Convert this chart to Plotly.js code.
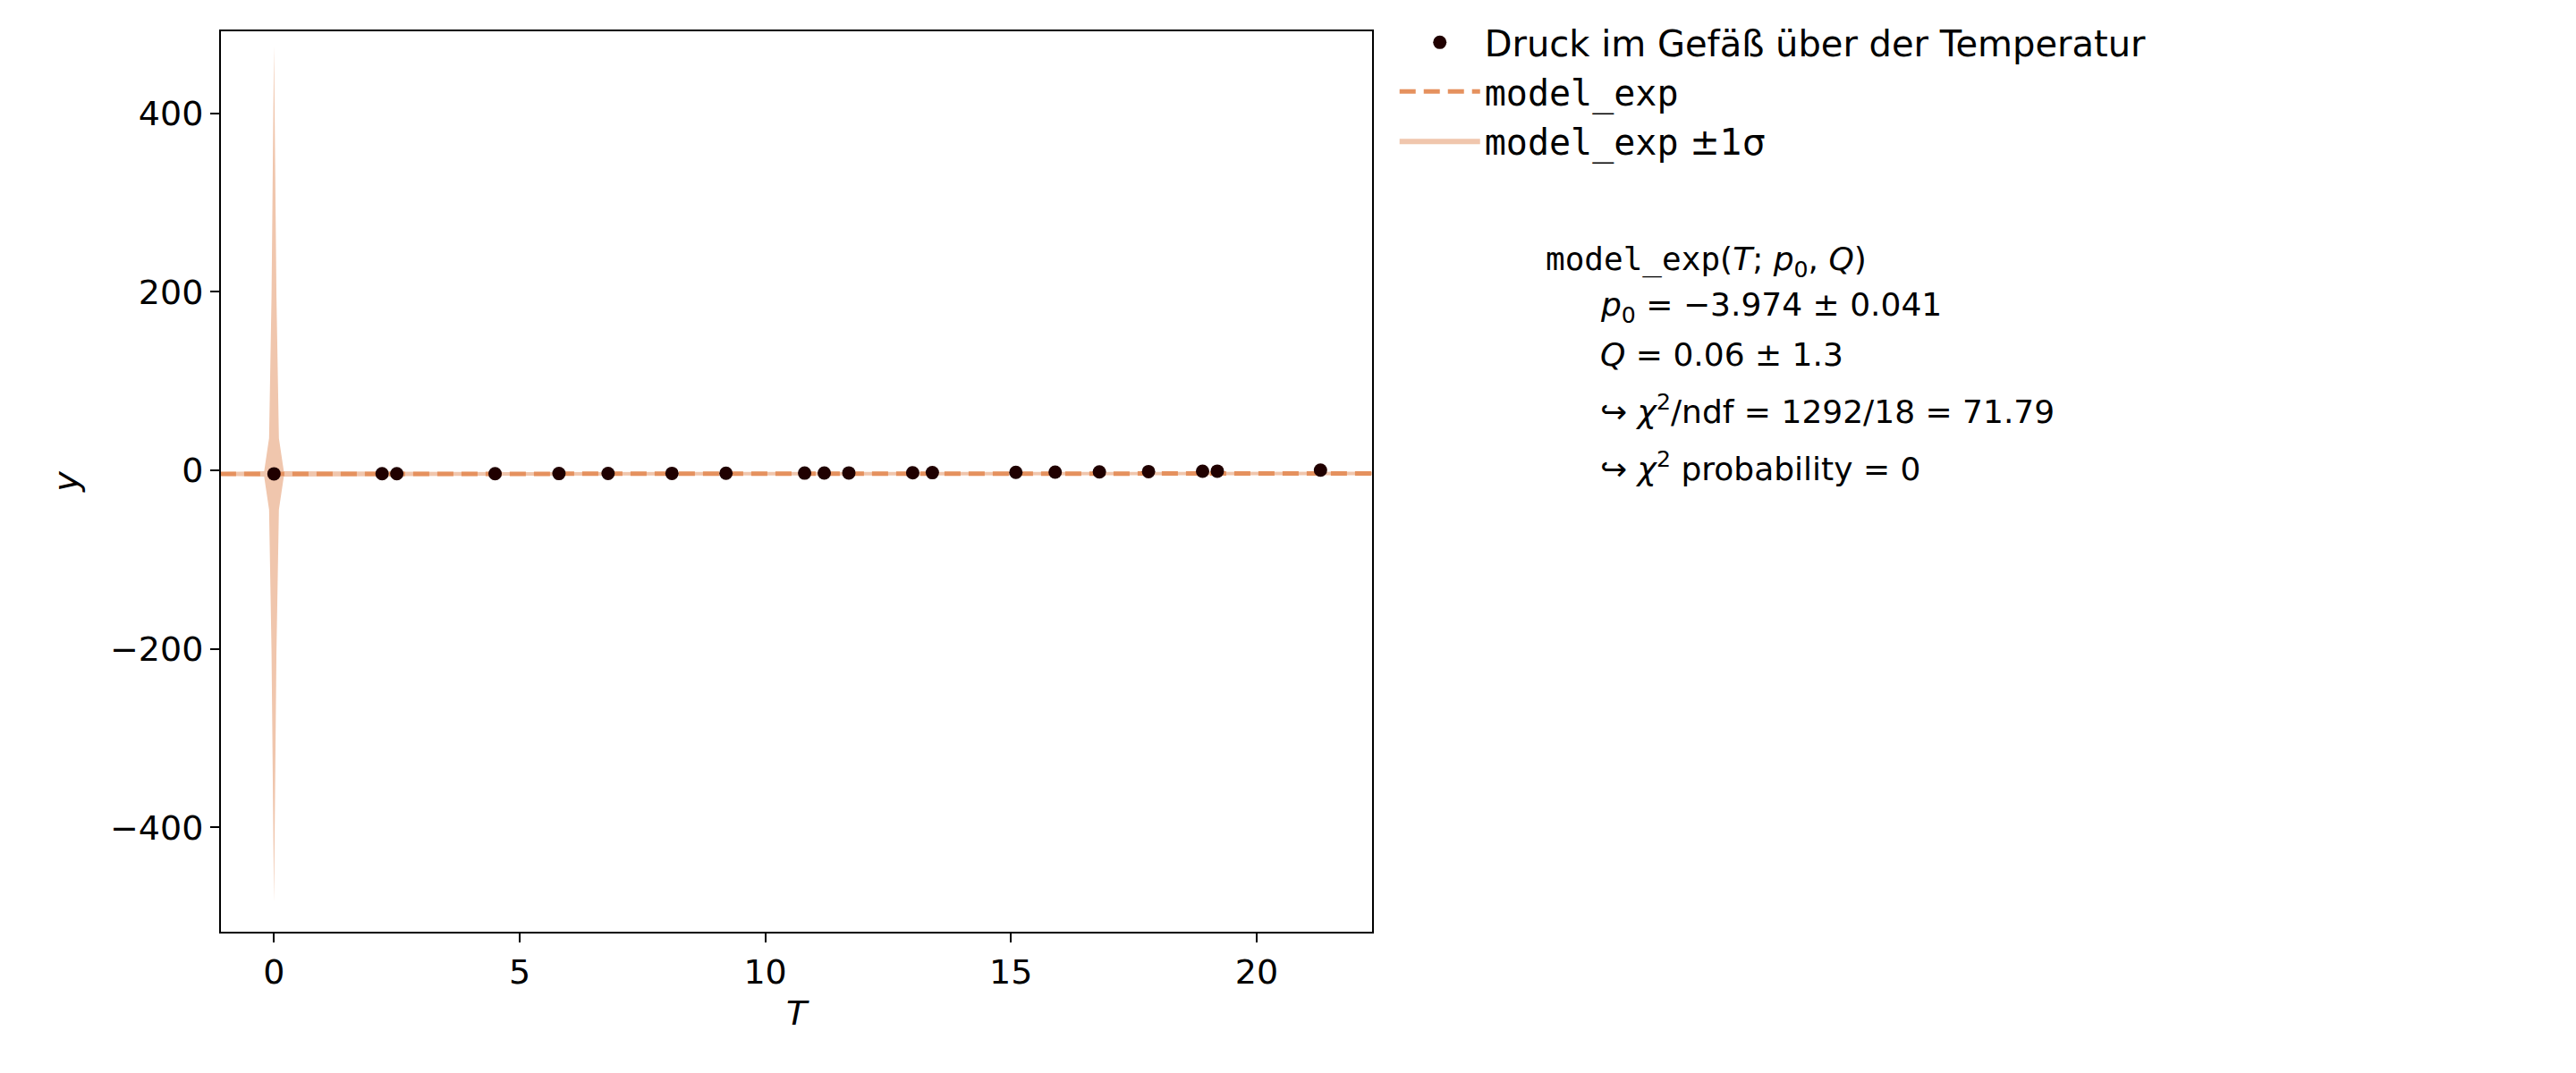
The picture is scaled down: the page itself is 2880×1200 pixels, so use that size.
<!DOCTYPE html>
<html>
<head>
<meta charset="utf-8">
<script src="https://cdn.plot.ly/plotly-3.0.1.min.js"></script>
<style>body{margin:0;background:#fff}</style>
</head>
<body>
<div id="chart" style="width:2880px;height:1200px"></div>
<script>
// measured data
var temps = [0, 2.2, 2.5, 4.5, 5.8, 6.8, 8.1, 9.2, 10.8, 11.2, 11.7, 13.0, 13.4, 15.1, 15.9, 16.8, 17.8, 18.9, 19.2, 21.3];
var pressure = [-3.9, -3.8, -3.8, -3.7, -3.6, -3.5, -3.4, -3.3, -3.1, -3.0, -2.9, -2.7, -2.6, -2.2, -2.0, -1.8, -1.4, -1.0, -0.9, 0.3];
var pressureErr = [0.5, 0.5, 0.5, 0.5, 0.5, 0.5, 0.5, 0.5, 0.5, 0.5, 0.5, 0.5, 0.5, 0.5, 0.5, 0.5, 0.5, 0.5, 0.5, 0.5];

// model curve and its 1 sigma band
var modelT = [-1.1, -0.2, -0.1, -0.05, 0, 0.05, 0.1, 0.2, 5, 10, 15, 20, 22.4];
var modelY = [-4.0, -4.0, -4.0, -4.0, -3.97, -3.97, -3.97, -3.96, -3.9, -3.8, -3.7, -3.6, -3.5];
var bandHalf = [2, 3, 40, 200, 480, 200, 40, 3, 2, 2, 2, 2, 2];

var upper = modelY.map(function(v, i){ return v + bandHalf[i]; });
var lower = modelY.map(function(v, i){ return v - bandHalf[i]; });

var mono = "'DejaVu Sans Mono', monospace";

var band = {
  x: modelT.concat(modelT.slice().reverse()),
  y: upper.concat(lower.slice().reverse()),
  fill: "toself", fillcolor: "#f0c6ad", line: {width: 0},
  mode: "lines", hoverinfo: "skip", legendrank: 3,
  name: "<span style=\"font-family:" + mono + "\">model_exp</span> ±1σ"
};
var model = {
  x: modelT, y: modelY, mode: "lines", legendrank: 2,
  line: {color: "#e5915e", width: 5, dash: "18px,9px"},
  name: "<span style=\"font-family:" + mono + "\">model_exp</span>"
};
var data = {
  x: temps, y: pressure, mode: "markers", legendrank: 1,
  marker: {color: "#200000", size: 15},
  error_y: {type: "data", array: pressureErr, color: "#200000", thickness: 3, width: 0},
  name: "Druck im Gefäß über der Temperatur"
};

var fitLines = [
  {t: "<span style=\"font-family:" + mono + "\">model_exp</span>(<i>T</i>; <i>p</i><sub>0</sub>, <i>Q</i>)", px: 1726, py: 292},
  {t: "<i>p</i><sub>0</sub> = −3.974 ± 0.041", px: 1787, py: 343},
  {t: "<i>Q</i> = 0.06 ± 1.3", px: 1787, py: 397},
  {t: "↪ <i>χ</i><sup>2</sup>/ndf = 1292/18 = 71.79", px: 1787, py: 458},
  {t: "↪ <i>χ</i><sup>2</sup> probability = 0", px: 1787, py: 522}
];
var L = 247, R = 1534, T = 35, B = 1042;
var annotations = fitLines.map(function(a){
  return {text: a.t, xref: "paper", yref: "paper", x: (a.px - L) / (R - L), y: 1 - (a.py - T) / (B - T),
    xanchor: "left", yanchor: "middle", showarrow: false, align: "left",
    font: {family: "'DejaVu Sans', sans-serif", size: 36, color: "#000"}};
});

var axisStyle = {showgrid: false, zeroline: false, showline: true, mirror: true,
  linecolor: "#000", linewidth: 2, ticks: "outside", ticklen: 10, tickwidth: 2,
  tickcolor: "#000", tickfont: {size: 38, color: "#000"}};

var layout = {
  width: 2880, height: 1200,
  margin: {l: L, r: 2880 - R, t: T, b: 1200 - B},
  paper_bgcolor: "#fff", plot_bgcolor: "#fff",
  font: {family: "'DejaVu Sans', sans-serif", color: "#000"},
  showlegend: true,
  legend: {x: 1.02, y: 1.02, xanchor: "left", yanchor: "top", font: {size: 40},
    traceorder: "normal", itemwidth: 90, tracegroupgap: 22, bgcolor: "rgba(0,0,0,0)"},
  xaxis: Object.assign({range: [-1.08, 22.35], tickvals: [0, 5, 10, 15, 20],
    title: {text: "<i>T</i>", font: {size: 38}, standoff: 12}}, axisStyle),
  yaxis: Object.assign({range: [-517, 492], tickvals: [-400, -200, 0, 200, 400],
    ticktext: ["−400", "−200", "0", "200", "400"],
    title: {text: "<i>y</i>", font: {size: 38}, standoff: 24}}, axisStyle),
  annotations: annotations
};

Plotly.newPlot("chart", [band, model, data], layout, {staticPlot: true});
</script>
</body>
</html>
